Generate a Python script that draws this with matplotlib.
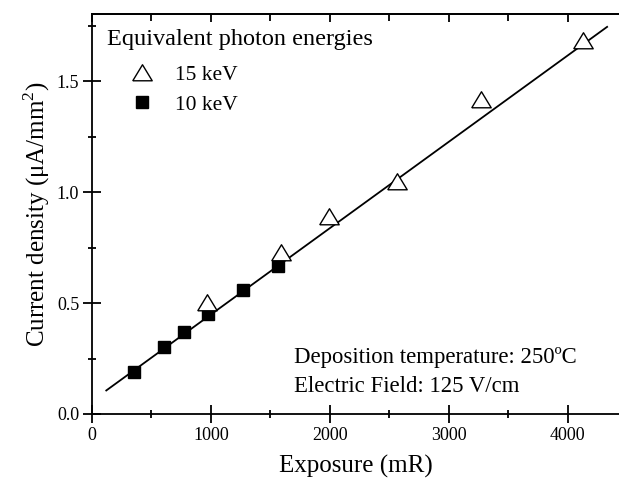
import matplotlib
matplotlib.use("Agg")
import matplotlib.pyplot as plt
from matplotlib.ticker import MultipleLocator, FormatStrFormatter, NullFormatter

# Measured current density vs. exposure
exposure_15kev = [966, 1588, 1992, 2563, 3269, 4126]
current_15kev = [0.50, 0.725, 0.887, 1.045, 1.414, 1.68]

exposure_10kev = [353, 605, 773, 975, 1269, 1563]
current_10kev = [0.189, 0.302, 0.369, 0.45, 0.559, 0.667]

# Linear fit endpoints
fit_x = [120, 4330]
fit_y = [0.106, 1.744]

plt.rcParams['font.family'] = ['Liberation Serif', 'DejaVu Serif']
plt.rcParams['mathtext.fontset'] = 'custom'
plt.rcParams['mathtext.rm'] = 'Liberation Serif'

W, H = 619, 482
fig = plt.figure(figsize=(W / 100, H / 100), dpi=100)
ax = fig.add_axes([92 / W, 68 / H, 1 - 92 / W, 400 / H])

# flattened triangle marker
tri = [(-1.0, -0.75), (1.0, -0.75), (0.0, 0.9), (-1.0, -0.75)]

ax.plot(fit_x, fit_y, color='black', lw=1.3, zorder=1)
ax.plot(exposure_15kev, current_15kev, linestyle='none', marker=tri,
        markersize=14, markerfacecolor='white', markeredgecolor='black',
        markeredgewidth=1.0, label='15 keV', zorder=3)
ax.plot(exposure_10kev, current_10kev, linestyle='none', marker='s',
        markersize=9, markerfacecolor='black', markeredgecolor='black',
        label='10 keV', zorder=2)

ax.set_xlim(0, 4430)
ax.set_ylim(0, 1.802)
ax.xaxis.set_major_locator(MultipleLocator(1000))
ax.xaxis.set_minor_locator(MultipleLocator(500))
ax.yaxis.set_major_locator(MultipleLocator(0.5))
ax.yaxis.set_minor_locator(MultipleLocator(0.25))
ax.yaxis.set_major_formatter(FormatStrFormatter('%.1f'))

ax.spines['right'].set_visible(False)
for s in ('left', 'bottom', 'top'):
    ax.spines[s].set_linewidth(1.3)

ax.tick_params(axis='both', which='major', direction='inout', length=12.5,
               width=1.3, labelsize=13, pad=3)
ax.tick_params(axis='both', which='minor', direction='inout', length=6,
               width=1.3)
ax.tick_params(axis='x', which='both', top=False)

# inward ticks along the top edge
top = ax.secondary_xaxis('top')
top.xaxis.set_major_locator(MultipleLocator(1000))
top.xaxis.set_minor_locator(MultipleLocator(500))
top.xaxis.set_major_formatter(NullFormatter())
top.spines['top'].set_linewidth(1.3)
top.tick_params(which='major', direction='in', length=6, width=1.3)
top.tick_params(which='minor', direction='in', length=5, width=1.3)

ax.set_xlabel('Exposure (mR)', fontsize=18, labelpad=8)
ax.set_ylabel('Current density (μA/mm$^2$)', fontsize=18, labelpad=3)

fig.text(107 / W, 1 - 40 / H, 'Equivalent photon energies', fontsize=17.5,
         va='center', ha='left')
fs_leg = 15.5
leg = ax.legend(loc='center left', bbox_to_anchor=(131 / W, 1 - 90 / H),
                bbox_transform=fig.transFigure, frameon=False,
                fontsize=fs_leg, handlelength=1.05, handletextpad=1.0,
                labelspacing=0.42, borderaxespad=0, borderpad=0)

fig.text(294 / W, 1 - 357 / H, 'Deposition temperature: 250ºC',
         fontsize=16.4, va='center', ha='left')
fig.text(294 / W, 1 - 386 / H, 'Electric Field: 125 V/cm',
         fontsize=16.4, va='center', ha='left')

fig.savefig('out.png', dpi=100)
